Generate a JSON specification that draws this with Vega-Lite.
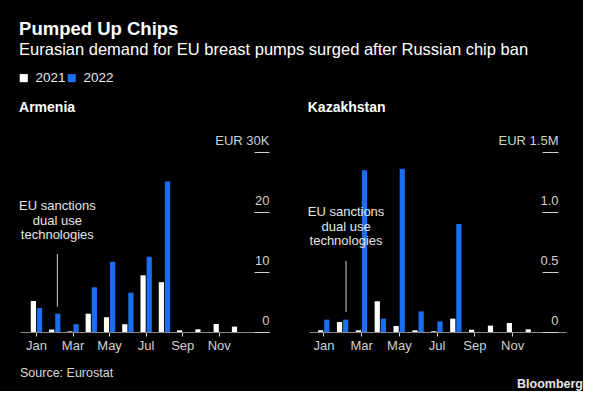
{
  "$schema": "https://vega.github.io/schema/vega-lite/v6.json",
  "background": "black",
  "padding": {"left": 19, "top": 20, "right": 0, "bottom": 0},
  "config": {
    "font": "Liberation Sans",
    "view": {"stroke": null},
    "axis": {"grid": false, "labelColor": "#d0d0d0", "labelFontSize": 13, "title": null},
    "legend": {"labelColor": "#e6e6e6", "labelFontSize": 13.5, "padding": 0}
  },
  "title": {
    "text": "Pumped Up Chips",
    "subtitle": "Eurasian demand for EU breast pumps surged after Russian chip ban",
    "anchor": "start",
    "color": "white",
    "subtitleColor": "white",
    "fontSize": 18.5,
    "fontWeight": "bold",
    "subtitleFontSize": 16.5,
    "subtitlePadding": 3,
    "offset": 13
  },
  "datasets": {
    "pumps": [
      {"country": "Armenia", "month": "Jan", "year": "2021", "value": 5170},
      {"country": "Armenia", "month": "Jan", "year": "2022", "value": 4000},
      {"country": "Armenia", "month": "Feb", "year": "2021", "value": 400},
      {"country": "Armenia", "month": "Feb", "year": "2022", "value": 3050},
      {"country": "Armenia", "month": "Mar", "year": "2021", "value": 100},
      {"country": "Armenia", "month": "Mar", "year": "2022", "value": 1300},
      {"country": "Armenia", "month": "Apr", "year": "2021", "value": 3050},
      {"country": "Armenia", "month": "Apr", "year": "2022", "value": 7450},
      {"country": "Armenia", "month": "May", "year": "2021", "value": 2450},
      {"country": "Armenia", "month": "May", "year": "2022", "value": 11700},
      {"country": "Armenia", "month": "Jun", "year": "2021", "value": 1300},
      {"country": "Armenia", "month": "Jun", "year": "2022", "value": 6550},
      {"country": "Armenia", "month": "Jul", "year": "2021", "value": 9450},
      {"country": "Armenia", "month": "Jul", "year": "2022", "value": 12550},
      {"country": "Armenia", "month": "Aug", "year": "2021", "value": 8300},
      {"country": "Armenia", "month": "Aug", "year": "2022", "value": 25100},
      {"country": "Armenia", "month": "Sep", "year": "2021", "value": 280},
      {"country": "Armenia", "month": "Oct", "year": "2021", "value": 450},
      {"country": "Armenia", "month": "Nov", "year": "2021", "value": 1330},
      {"country": "Armenia", "month": "Dec", "year": "2021", "value": 900},
      {"country": "Kazakhstan", "month": "Jan", "year": "2021", "value": 14000},
      {"country": "Kazakhstan", "month": "Jan", "year": "2022", "value": 103000},
      {"country": "Kazakhstan", "month": "Feb", "year": "2021", "value": 83000},
      {"country": "Kazakhstan", "month": "Feb", "year": "2022", "value": 103000},
      {"country": "Kazakhstan", "month": "Mar", "year": "2021", "value": 14000},
      {"country": "Kazakhstan", "month": "Mar", "year": "2022", "value": 1347000},
      {"country": "Kazakhstan", "month": "Apr", "year": "2021", "value": 256000},
      {"country": "Kazakhstan", "month": "Apr", "year": "2022", "value": 111000},
      {"country": "Kazakhstan", "month": "May", "year": "2021", "value": 50000},
      {"country": "Kazakhstan", "month": "May", "year": "2022", "value": 1361000},
      {"country": "Kazakhstan", "month": "Jun", "year": "2021", "value": 14000},
      {"country": "Kazakhstan", "month": "Jun", "year": "2022", "value": 172000},
      {"country": "Kazakhstan", "month": "Jul", "year": "2021", "value": 6000},
      {"country": "Kazakhstan", "month": "Jul", "year": "2022", "value": 89000},
      {"country": "Kazakhstan", "month": "Aug", "year": "2021", "value": 111000},
      {"country": "Kazakhstan", "month": "Aug", "year": "2022", "value": 900000},
      {"country": "Kazakhstan", "month": "Sep", "year": "2021", "value": 19000},
      {"country": "Kazakhstan", "month": "Oct", "year": "2021", "value": 53000},
      {"country": "Kazakhstan", "month": "Nov", "year": "2021", "value": 75000},
      {"country": "Kazakhstan", "month": "Dec", "year": "2021", "value": 22000}
    ],
    "notes": [
      {"country": "Armenia", "month": "Feb", "low": 4200, "high": 13000, "textY": 22000, "note": "EU sanctions\ndual use\ntechnologies"},
      {"country": "Kazakhstan", "month": "Feb", "low": 167000, "high": 592000, "textY": 1050000, "note": "EU sanctions\ndual use\ntechnologies"}
    ],
    "footer": [
      {"side": "left", "label": "Source: Eurostat"},
      {"side": "right", "label": "Bloomberg"}
    ]
  },
  "resolve": {"scale": {"color": "shared"}, "legend": {"color": "shared"}},
  "spacing": 15,
  "vconcat": [
    {
      "resolve": {"scale": {"color": "shared"}, "legend": {"color": "shared"}},
      "spacing": 37,
      "hconcat": [
        {
          "width": 249,
          "height": 180,
          "title": {"text": "Armenia", "anchor": "start", "fontSize": 14, "fontWeight": "bold", "color": "white", "offset": 19},
          "layer": [
            {
              "data": {"name": "pumps"},
              "transform": [{"filter": "datum.country == 'Armenia'"}],
              "mark": {"type": "bar"},
              "encoding": {
                "x": {
                  "field": "month", "type": "ordinal",
                  "scale": {"domain": ["Jan", "Feb", "Mar", "Apr", "May", "Jun", "Jul", "Aug", "Sep", "Oct", "Nov", "Dec"], "paddingInner": 0.38, "paddingOuter": 1.387, "align": 0.295},
                  "axis": {"values": ["Jan", "Mar", "May", "Jul", "Sep", "Nov"], "labelAngle": 0, "domainColor": "#8a8a8a", "tickColor": "#d0d0d0", "tickSize": 4, "labelPadding": 3}
                },
                "xOffset": {"field": "year", "scale": {"domain": ["2021", "2022"], "paddingInner": 0.15}},
                "y": {
                  "field": "value", "type": "quantitative",
                  "scale": {"domain": [0, 30000], "nice": false},
                  "axis": {"orient": "right", "offset": -15, "domain": false, "values": [0, 10000, 20000, 30000], "tickSize": 15, "tickColor": "#d0d0d0", "labelAlign": "right", "labelBaseline": "bottom", "labelPadding": 0, "labelOffset": -5, "labelFlush": false, "labelBound": false, "labelOverlap": false,
                    "labelExpr": "datum.value == 30000 ? 'EUR  30K' : format(datum.value / 1000, 'd')"}
                },
                "color": {
                  "field": "year", "type": "nominal",
                  "scale": {"domain": ["2021", "2022"], "range": ["#ffffff", "#1a6ef0"]},
                  "legend": {"orient": "top", "direction": "horizontal", "title": null, "symbolType": "square", "symbolSize": 66, "symbolStrokeWidth": 0, "symbolOffset": -3, "columnPadding": 1, "labelOffset": 5, "offset": 16}
                }
              }
            },
            {
              "data": {"name": "notes"},
              "transform": [{"filter": "datum.country == 'Armenia'"}],
              "mark": {"type": "rule", "color": "#cccccc", "strokeWidth": 1},
              "encoding": {
                "x": {"field": "month", "type": "ordinal", "bandPosition": 0.73},
                "y": {"field": "low", "type": "quantitative"},
                "y2": {"field": "high"}
              }
            },
            {
              "data": {"name": "notes"},
              "transform": [{"filter": "datum.country == 'Armenia'"}],
              "mark": {"type": "text", "color": "#e6e6e6", "fontSize": 13, "lineBreak": "\n", "lineHeight": 14.5, "align": "center", "baseline": "top"},
              "encoding": {
                "x": {"field": "month", "type": "ordinal", "bandPosition": 0.73},
                "y": {"field": "textY", "type": "quantitative"},
                "text": {"field": "note"}
              }
            }
          ]
        },
        {
          "width": 257,
          "height": 180,
          "title": {"text": "Kazakhstan", "anchor": "start", "fontSize": 14, "fontWeight": "bold", "color": "white", "offset": 19},
          "layer": [
            {
              "data": {"name": "pumps"},
              "transform": [{"filter": "datum.country == 'Kazakhstan'"}],
              "mark": {"type": "bar"},
              "encoding": {
                "x": {
                  "field": "month", "type": "ordinal",
                  "scale": {"domain": ["Jan", "Feb", "Mar", "Apr", "May", "Jun", "Jul", "Aug", "Sep", "Oct", "Nov", "Dec"], "paddingInner": 0.38, "paddingOuter": 1.84, "align": 0.24},
                  "axis": {"values": ["Jan", "Mar", "May", "Jul", "Sep", "Nov"], "labelAngle": 0, "domainColor": "#8a8a8a", "tickColor": "#d0d0d0", "tickSize": 4, "labelPadding": 3}
                },
                "xOffset": {"field": "year", "scale": {"domain": ["2021", "2022"], "paddingInner": 0.15}},
                "y": {
                  "field": "value", "type": "quantitative",
                  "scale": {"domain": [0, 1500000], "nice": false},
                  "axis": {"orient": "right", "offset": -24, "domain": false, "values": [0, 500000, 1000000, 1500000], "tickSize": 16, "tickColor": "#d0d0d0", "labelAlign": "right", "labelBaseline": "bottom", "labelPadding": 0, "labelOffset": -5, "labelFlush": false, "labelBound": false, "labelOverlap": false,
                    "labelExpr": "datum.value == 1500000 ? 'EUR  1.5M' : datum.value == 0 ? '0' : format(datum.value / 1000000, '.1f')"}
                },
                "color": {"field": "year", "type": "nominal", "scale": {"domain": ["2021", "2022"], "range": ["#ffffff", "#1a6ef0"]}}
              }
            },
            {
              "data": {"name": "notes"},
              "transform": [{"filter": "datum.country == 'Kazakhstan'"}],
              "mark": {"type": "rule", "color": "#cccccc", "strokeWidth": 1},
              "encoding": {
                "x": {"field": "month", "type": "ordinal", "bandPosition": 0.78},
                "y": {"field": "low", "type": "quantitative"},
                "y2": {"field": "high"}
              }
            },
            {
              "data": {"name": "notes"},
              "transform": [{"filter": "datum.country == 'Kazakhstan'"}],
              "mark": {"type": "text", "color": "#e6e6e6", "fontSize": 13, "lineBreak": "\n", "lineHeight": 14.5, "align": "center", "baseline": "top"},
              "encoding": {
                "x": {"field": "month", "type": "ordinal", "bandPosition": 0.78},
                "y": {"field": "textY", "type": "quantitative"},
                "text": {"field": "note"}
              }
            }
          ]
        }
      ]
    },
    {
      "width": 563,
      "height": 20,
      "data": {"name": "footer"},
      "layer": [
        {
          "transform": [{"filter": "datum.side == 'left'"}],
          "mark": {"type": "text", "color": "#d9d9d9", "fontSize": 12.5, "align": "left", "baseline": "alphabetic"},
          "encoding": {
            "x": {"field": "side", "type": "nominal", "scale": {"type": "point", "domain": ["left", "right"], "padding": 0}, "axis": null},
            "text": {"field": "label"}
          }
        },
        {
          "transform": [{"filter": "datum.side == 'right'"}],
          "mark": {"type": "text", "color": "#e6e6e6", "fontSize": 12.5, "fontWeight": "bold", "align": "right", "baseline": "top", "dy": 1},
          "encoding": {
            "x": {"field": "side", "type": "nominal", "axis": null},
            "text": {"field": "label"}
          }
        }
      ]
    }
  ]
}
